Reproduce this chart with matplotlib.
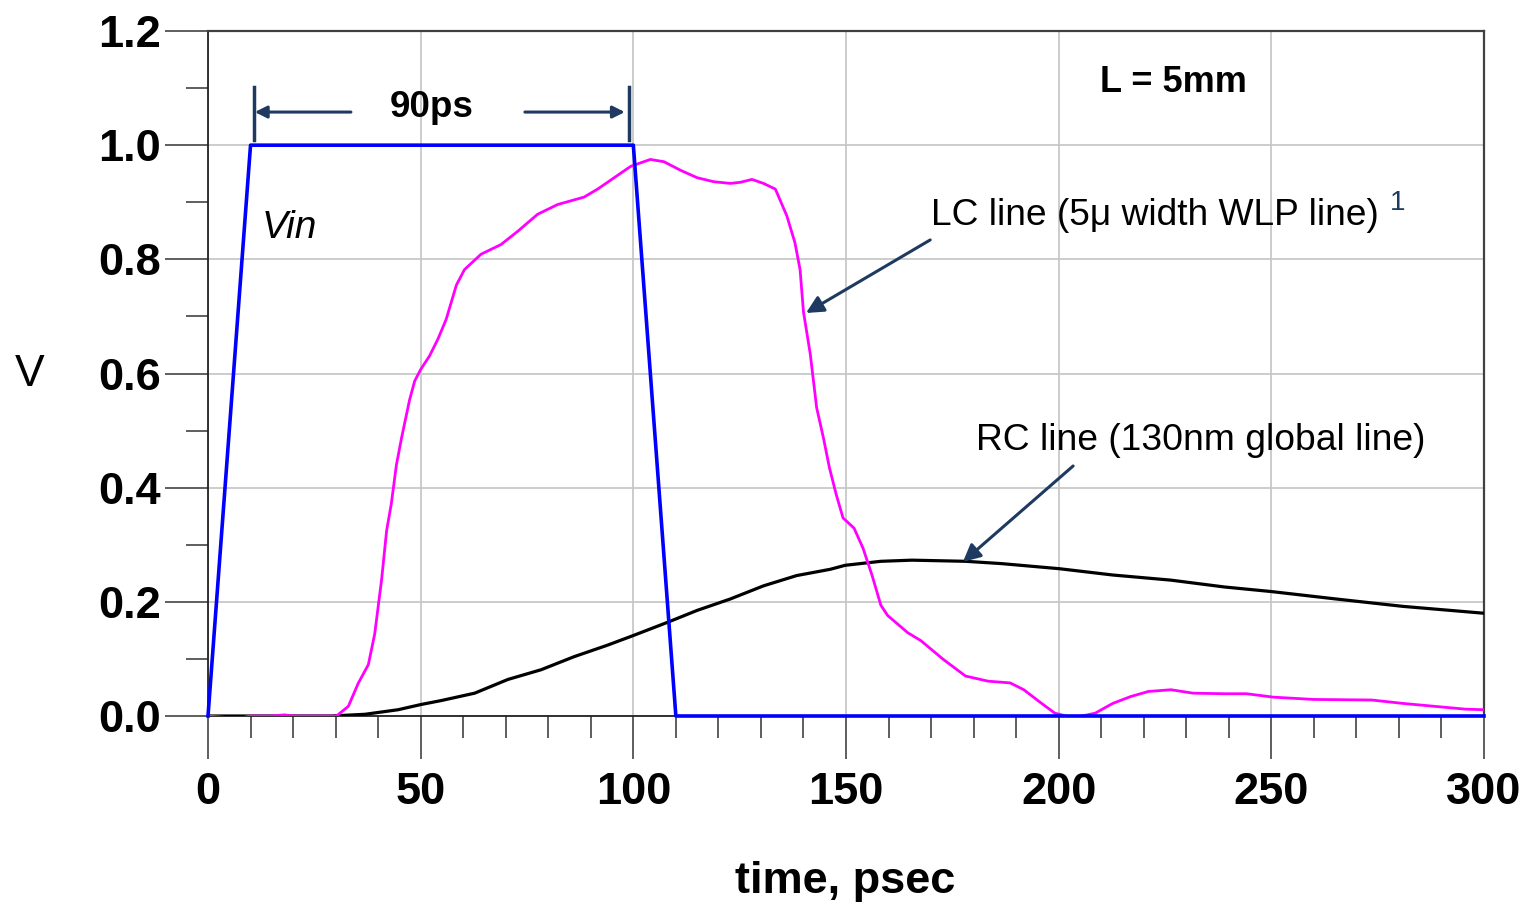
import matplotlib
matplotlib.use("Agg")
import matplotlib.pyplot as plt
from matplotlib.ticker import MultipleLocator, FixedLocator

# ---- data (time in ps, voltage in V) ----
vin_t = [0, 10, 100, 110, 300]
vin_v = [0.0, 1.0, 1.0, 0.0, 0.0]

lc_t = [0, 5, 8, 10, 15, 18, 20, 24, 28, 30.2, 33, 35.3, 37.7, 39.2, 40.8, 42, 43.1, 44.3, 45.5,
        47.4, 48.6, 50, 52.1, 54.1, 56, 58.4, 60.3, 64.2, 68.9, 72.8, 77.5, 82.2, 88.4,
        91.6, 95.5, 99.4, 104, 107.2, 111.1, 115, 118.9, 122.8, 125.2, 127.9, 130.6,
        133.4, 136.1, 138, 139.2, 140, 141.6, 143.1, 144.7, 146.1, 147.7, 149.3, 151.9,
        154, 156.1, 158.2, 159.8, 164.5, 167.6, 172.9, 178.1, 183.4, 188.6, 191.8, 196,
        199.1, 202.3, 204.9, 208.6, 212.7, 216.9, 221.1, 226.4, 231.6, 239, 244.2,
        250.5, 260, 273.6, 281, 288.3, 295.6, 300]
lc_v = [0.0, -0.003, -0.003, 0.0, 0.0, 0.002, 0.0, 0.0, 0.0, 0.0, 0.017, 0.057, 0.09, 0.144,
        0.238, 0.325, 0.372, 0.44, 0.487, 0.554, 0.587, 0.607, 0.631, 0.661, 0.695, 0.755,
        0.782, 0.809, 0.826, 0.849, 0.879, 0.896, 0.909, 0.923, 0.943, 0.963, 0.975, 0.971,
        0.956, 0.943, 0.936, 0.933, 0.935, 0.94, 0.933, 0.923, 0.876, 0.829, 0.782, 0.708,
        0.634, 0.54, 0.487, 0.435, 0.388, 0.347, 0.329, 0.294, 0.247, 0.194, 0.176, 0.146,
        0.132, 0.099, 0.07, 0.061, 0.058, 0.046, 0.022, 0.005, -0.001, -0.001, 0.005, 0.022,
        0.034, 0.043, 0.046, 0.04, 0.039, 0.039, 0.033, 0.029, 0.028, 0.022, 0.017, 0.012,
        0.011]

rc_t = [0, 20, 29, 36.9, 44.7, 50, 54.8, 62.7, 70.5, 78.3, 86.1, 93.9, 100, 108, 115, 122.8,
        130.6, 138.4, 146.3, 149.8, 158.2, 165.5, 178.1, 186.5, 200.2, 212.7, 226.4, 239,
        250, 265.2, 281, 300]
rc_v = [0.0, 0.0, 0.0, 0.003, 0.011, 0.02, 0.027, 0.04, 0.064, 0.081, 0.104, 0.124, 0.141,
        0.164, 0.185, 0.205, 0.228, 0.246, 0.257, 0.264, 0.271, 0.273, 0.271, 0.267, 0.258,
        0.247, 0.238, 0.226, 0.218, 0.205, 0.192, 0.18]

x_major = [0, 50, 100, 150, 200, 250, 300]
y_major = [0.0, 0.2, 0.4, 0.6, 0.8, 1.0, 1.2]
y_labels = ["0.0", "0.2", "0.4", "0.6", "0.8", "1.0", "1.2"]

W, H = 1531, 908
fig = plt.figure(figsize=(W / 100, H / 100), dpi=100)
ax = fig.add_axes([208 / W, 1 - 716 / H, (1484 - 208) / W, (716 - 31) / H])

FONT = ["Liberation Sans", "DejaVu Sans"]
navy = "#1F3A60"

ax.set_xlim(0, 300)
ax.set_ylim(0, 1.2)

ax.grid(True, which="major", color="#C4C4C4", linewidth=1.2, zorder=0)
ax.set_axisbelow(True)

ax.plot(rc_t, rc_v, color="black", linewidth=2.3, zorder=3)
ax.plot(lc_t, lc_v, color="#FF00FF", linewidth=2.0, zorder=4)
ax.plot(vin_t, vin_v, color="#0000FF", linewidth=2.6, zorder=5, clip_on=False)

ax.xaxis.set_major_locator(FixedLocator(x_major))
ax.xaxis.set_minor_locator(MultipleLocator(10))
ax.yaxis.set_major_locator(FixedLocator(y_major))
ax.yaxis.set_minor_locator(MultipleLocator(0.1))
ax.set_yticklabels(y_labels)

ax.tick_params(axis="both", which="major", direction="out", length=31, width=1.1,
               color="#333333", top=False, right=False)
ax.tick_params(axis="both", which="minor", direction="out", length=16, width=1.1,
               color="#333333", top=False, right=False)
ax.tick_params(axis="x", which="major", pad=9)
ax.tick_params(axis="y", which="major", pad=3)
for lab in ax.get_xticklabels() + ax.get_yticklabels():
    lab.set_fontfamily(FONT)
    lab.set_fontsize(32.5)
    lab.set_fontweight("bold")

for s in ["top", "right"]:
    ax.spines[s].set_color("#404040")
    ax.spines[s].set_linewidth(1.6)
for s in ["left", "bottom"]:
    ax.spines[s].set_color("#222222")
    ax.spines[s].set_linewidth(1.3)

# axis titles
fig.text(845 / W, 1 - 882 / H, "time, psec", fontsize=32.5, fontweight="bold",
         family=FONT, ha="center", va="center")
fig.text(30 / W, 1 - 374 / H, "V", fontsize=32, family=FONT, ha="center", va="center")

# annotations
ax.text(226.9, 1.109, "L = 5mm", fontsize=26, fontweight="bold", family=FONT,
        ha="center", va="center")
ax.text(52.7, 1.066, "90ps", fontsize=26.5, fontweight="bold", family=FONT,
        ha="center", va="center")
ax.text(12.7, 0.855, "Vin", fontsize=28, style="italic", family=FONT,
        ha="left", va="center")
ax.text(170.0, 0.877, "LC line (5\u03bc width WLP line)", fontsize=26.7, family=FONT,
        ha="left", va="center")
ax.text(277.8, 0.898, "1", fontsize=20, family=FONT, color=navy, ha="left", va="center")
ax.text(180.6, 0.483, "RC line (130nm global line)", fontsize=26.8, family=FONT,
        ha="left", va="center")

# 90ps dimension marks
ax.plot([10.8, 10.8], [1.009, 1.102], color=navy, linewidth=2.5, clip_on=False, zorder=6)
ax.plot([99.0, 99.0], [1.009, 1.102], color=navy, linewidth=2.5, clip_on=False, zorder=6)
ax.annotate("", xy=(11.0, 1.058), xytext=(33.6, 1.058),
            arrowprops=dict(arrowstyle="-|>", color=navy, lw=2.2, mutation_scale=18,
                            shrinkA=0, shrinkB=0))
ax.annotate("", xy=(98.0, 1.058), xytext=(74.5, 1.058),
            arrowprops=dict(arrowstyle="-|>", color=navy, lw=2.2, mutation_scale=18,
                            shrinkA=0, shrinkB=0))

# pointer arrows
ax.annotate("", xy=(140.6, 0.706), xytext=(169.8, 0.834),
            arrowprops=dict(arrowstyle="-|>", color=navy, lw=2.2, mutation_scale=26,
                            shrinkA=0, shrinkB=0))
ax.annotate("", xy=(177.5, 0.27), xytext=(203.4, 0.438),
            arrowprops=dict(arrowstyle="-|>", color=navy, lw=2.2, mutation_scale=26,
                            shrinkA=0, shrinkB=0))

fig.savefig("out.png", dpi=100)
